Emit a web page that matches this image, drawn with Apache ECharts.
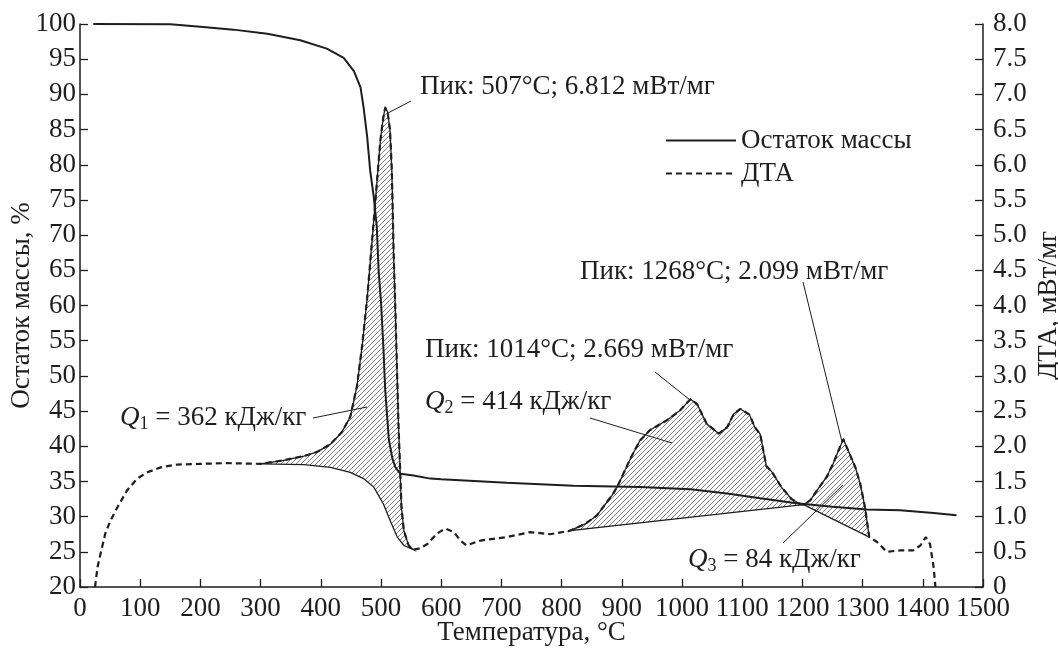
<!DOCTYPE html>
<html>
<head>
<meta charset="utf-8">
<script src="https://cdn.jsdelivr.net/npm/echarts@6/dist/echarts.min.js"></script>
<style>
  html, body { margin: 0; padding: 0; background: #fff; }
  #chart { width: 1058px; height: 654px; }
</style>
</head>
<body>
<div id="chart"></div>
<script>
// остаток массы, % (левая ось): [T, %]
const massCurve = [
  [22, 100], [150, 99.95], [200, 99.6], [255, 99.2], [311, 98.6], [366, 97.7],
  [410, 96.5], [438, 95.2], [455, 93.3], [466, 91.0], [471, 88.2], [477, 84.0],
  [482, 79.2], [488, 75.4], [493, 71.2], [496, 65.0], [500, 60.5], [504, 54],
  [507, 48], [513, 41], [519, 38.2], [524, 37.0], [532, 36.1], [554, 35.85],
  [582, 35.4], [600, 35.3], [709, 34.8], [820, 34.4], [930, 34.2], [1014, 33.9],
  [1075, 33.3], [1130, 32.6], [1190, 31.9], [1250, 31.4], [1307, 31.0],
  [1362, 30.9], [1418, 30.5], [1456, 30.2]
]

// ДТА, мВт/мг (правая ось): [T, value]
const dtaCurve = [
  [25, 0], [29, 0.28], [34, 0.47], [42, 0.76], [51, 0.95], [62, 1.13], [78, 1.37],
  [95, 1.54], [112, 1.63], [134, 1.70], [161, 1.74], [200, 1.75], [244, 1.76],
  [300, 1.75], [338, 1.80], [372, 1.86], [394, 1.92], [416, 2.03], [435, 2.20],
  [449, 2.42], [460, 2.85], [469, 3.45], [477, 4.1], [488, 5.21], [499, 6.35],
  [504, 6.68], [507, 6.812], [511, 6.75], [515, 6.49], [518, 5.92], [521, 4.74],
  [524, 3.9], [526, 3.27], [529, 2.32], [532, 1.61], [534, 1.13], [538, 0.80],
  [546, 0.59], [554, 0.53], [565, 0.55], [577, 0.61], [593, 0.76], [607, 0.83],
  [621, 0.78], [632, 0.66], [642, 0.59], [665, 0.66], [709, 0.71], [748, 0.78],
  [781, 0.75], [814, 0.80], [840, 0.90], [859, 1.02], [886, 1.33], [895, 1.47],
  [914, 1.82], [930, 2.08], [947, 2.23], [975, 2.37], [997, 2.51], [1014, 2.669],
  [1025, 2.60], [1041, 2.32], [1061, 2.18], [1075, 2.27], [1086, 2.46],
  [1097, 2.53], [1112, 2.45], [1121, 2.27], [1130, 2.17], [1136, 1.90],
  [1140, 1.72], [1150, 1.63], [1165, 1.42], [1182, 1.25], [1196, 1.18],
  [1202, 1.17], [1213, 1.23], [1224, 1.37], [1240, 1.56], [1251, 1.75],
  [1260, 1.94], [1268, 2.099], [1277, 1.92], [1288, 1.70], [1296, 1.47],
  [1304, 1.13], [1311, 0.71], [1324, 0.64], [1340, 0.50], [1362, 0.52],
  [1384, 0.52], [1396, 0.59], [1405, 0.71], [1412, 0.61], [1418, 0.28], [1421, 0]
]

// базовые линии интегрирования пиков
const q1Base = [[300, 1.75], [372, 1.74], [416, 1.70], [449, 1.63], [471, 1.54],
  [488, 1.42], [504, 1.18], [515, 0.95], [527, 0.71], [538, 0.59], [554, 0.53]]
const q2Base = [[814, 0.80], [1202, 1.17]]
const q3Base = [[1202, 1.17], [1311, 0.71]]

const seriesNames = ['Остаток массы', 'ДТА']
const FONT = '"Liberation Serif", "Times New Roman", serif'
const INK = '#1e1e1e'
const FS = 27

// штриховка
const hatch = document.createElement('canvas')
hatch.width = 5
hatch.height = 5
const hc = hatch.getContext('2d')
hc.strokeStyle = '#707070'
hc.lineWidth = 0.9
hc.beginPath()
hc.moveTo(-1, 6); hc.lineTo(6, -1)
hc.moveTo(-1, 1); hc.lineTo(1, -1)
hc.moveTo(4, 6); hc.lineTo(6, 4)
hc.stroke()

function peakArea(from, to, base) {
  const top = dtaCurve.filter(p => p[0] >= from && p[0] <= to)
  const poly = top.concat(base.slice().reverse())
  return {
    type: 'custom',
    yAxisIndex: 1,
    silent: true,
    z: 1,
    data: [poly[0]],
    renderItem: function (params, api) {
      return {
        type: 'polygon',
        shape: { points: poly.map(p => api.coord(p)) },
        style: { fill: { image: hatch, repeat: 'repeat' }, stroke: INK, lineWidth: 1.3 },
      }
    },
  }
}

const chart = echarts.init(document.getElementById('chart'))

const axisCommon = {
  axisLine: { show: true, lineStyle: { color: INK, width: 1.5 } },
  axisTick: { show: true, inside: true, length: 8, lineStyle: { color: INK, width: 1.3 } },
  splitLine: { show: false },
  nameLocation: 'middle',
  nameMoveOverlap: false,
  nameTextStyle: { fontFamily: FONT, fontSize: FS, color: INK },
}

function label(text, x, y) {
  return {
    type: 'text', x: x, y: y, z: 100,
    style: {
      text: text, fill: INK, font: FS + 'px ' + FONT,
      textVerticalAlign: 'middle', verticalAlign: 'middle',
    },
  }
}
function qLabel(n, rest, x, y) {
  return {
    type: 'text', x: x, y: y, z: 100,
    style: {
      text: '{q|Q}{s|' + n + '}{t| = ' + rest + '}',
      fill: INK, textVerticalAlign: 'middle', verticalAlign: 'middle',
      rich: {
        q: { fontFamily: FONT, fontSize: FS, fontStyle: 'italic', lineHeight: 30, fill: INK, color: INK },
        s: { fontFamily: FONT, fontSize: 18, lineHeight: 20, verticalAlign: 'bottom', fill: INK, color: INK },
        t: { fontFamily: FONT, fontSize: FS, lineHeight: 30, fill: INK, color: INK },
      },
    },
  }
}
function leader(x1, y1, x2, y2) {
  return { type: 'line', z: 100, shape: { x1, y1, x2, y2 }, style: { stroke: INK, lineWidth: 1 } }
}

chart.setOption({
  animation: false,
  backgroundColor: '#fff',
  grid: { left: 80, right: 75, top: 24, bottom: 67, containLabel: false, outerBoundsMode: 'none' },
  legend: {
    data: seriesNames,
    orient: 'vertical',
    left: 665,
    top: 127,
    padding: 0,
    itemWidth: 70,
    itemHeight: 14,
    itemGap: 6,
    itemStyle: { opacity: 0 },
    textStyle: { fontFamily: FONT, fontSize: FS, color: INK },
  },
  xAxis: Object.assign({}, axisCommon, {
    type: 'value',
    min: 0, max: 1500, interval: 100,
    name: 'Температура, °C',
    nameGap: 32,
    axisLabel: { fontFamily: FONT, fontSize: FS, color: INK, margin: 8, formatter: v => String(v) },
  }),
  yAxis: [
    Object.assign({}, axisCommon, {
      type: 'value',
      min: 20, max: 100, interval: 5,
      name: 'Остаток массы, %',
      nameGap: 45,
      axisLabel: { fontFamily: FONT, fontSize: FS, color: INK, margin: 4 },
    }),
    Object.assign({}, axisCommon, {
      type: 'value',
      position: 'right',
      min: 0, max: 8, interval: 0.5,
      name: 'ДТА, мВт/мг',
      nameGap: 52,
      nameRotate: 90,
      axisLabel: {
        fontFamily: FONT, fontSize: FS, color: INK, margin: 10,
        formatter: v => (v === 0 ? '0' : v.toFixed(1)),
      },
    }),
  ],
  series: [
    peakArea(300, 554, q1Base),
    peakArea(814, 1202, q2Base),
    peakArea(1202, 1311, q3Base),
    {
      name: seriesNames[0],
      type: 'line',
      yAxisIndex: 0,
      data: massCurve,
      symbol: 'none',
      z: 5,
      lineStyle: { color: INK, width: 2 },
      itemStyle: { color: INK },
    },
    {
      name: seriesNames[1],
      type: 'line',
      yAxisIndex: 1,
      data: dtaCurve,
      symbol: 'none',
      z: 4,
      lineStyle: { color: INK, width: 2.2, type: [6, 4] },
      itemStyle: { color: INK },
    },
  ],
  graphic: [
    label('Пик: 507°C; 6.812 мВт/мг', 420, 87),
    leader(411, 101, 388, 113),
    label('Пик: 1014°C; 2.669 мВт/мг', 425, 350),
    leader(655, 372, 690, 400),
    label('Пик: 1268°C; 2.099 мВт/мг', 580, 272),
    leader(803, 282, 842, 442),
    qLabel(1, '362 кДж/кг', 120, 418),
    leader(313, 418, 367, 407),
    qLabel(2, '414 кДж/кг', 425, 402),
    leader(590, 418, 672, 443),
    qLabel(3, '84 кДж/кг', 688, 560),
    leader(783, 543, 843, 485),
  ],
})
</script>
</body>
</html>
